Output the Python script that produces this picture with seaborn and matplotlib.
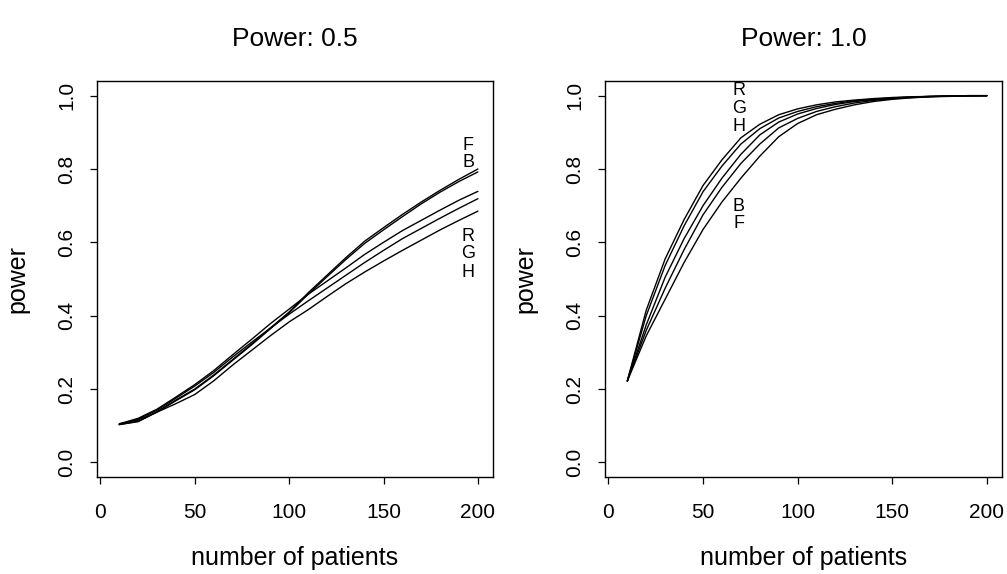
import matplotlib
matplotlib.use("Agg")
import matplotlib.pyplot as plt
import pandas as pd
import seaborn as sns

# number of patients (x) shared by every curve
patients = [10, 20, 30, 40, 50, 60, 70, 80, 90, 100,
            110, 120, 130, 140, 150, 160, 170, 180, 190, 200]

designs = ["F", "B", "R", "G", "H"]

# power curves, effect "Power: 0.5"
F_05 = [0.103, 0.112, 0.138, 0.170, 0.200, 0.238, 0.280, 0.322, 0.366, 0.410,
        0.462, 0.510, 0.558, 0.603, 0.640, 0.676, 0.710, 0.742, 0.772, 0.800]
B_05 = [0.103, 0.111, 0.137, 0.168, 0.198, 0.236, 0.278, 0.320, 0.364, 0.408,
        0.458, 0.506, 0.553, 0.597, 0.634, 0.670, 0.705, 0.737, 0.766, 0.792]
R_05 = [0.105, 0.120, 0.145, 0.178, 0.212, 0.250, 0.293, 0.335, 0.378, 0.418,
        0.458, 0.494, 0.530, 0.567, 0.600, 0.632, 0.660, 0.688, 0.715, 0.739]
G_05 = [0.103, 0.118, 0.142, 0.175, 0.208, 0.245, 0.287, 0.327, 0.366, 0.404,
        0.440, 0.475, 0.510, 0.545, 0.578, 0.610, 0.638, 0.666, 0.693, 0.719]
H_05 = [0.105, 0.115, 0.137, 0.160, 0.185, 0.222, 0.265, 0.305, 0.345, 0.383,
        0.416, 0.452, 0.487, 0.519, 0.549, 0.578, 0.606, 0.634, 0.660, 0.685]

# power curves, effect "Power: 1.0"
F_10 = [0.222, 0.345, 0.445, 0.545, 0.635, 0.710, 0.775, 0.835, 0.888, 0.924,
        0.948, 0.963, 0.975, 0.984, 0.990, 0.994, 0.997, 0.998, 0.999, 1.000]
B_10 = [0.222, 0.360, 0.475, 0.580, 0.675, 0.750, 0.815, 0.868, 0.912, 0.938,
        0.957, 0.970, 0.980, 0.987, 0.992, 0.995, 0.997, 0.999, 1.000, 1.000]
R_10 = [0.222, 0.415, 0.555, 0.662, 0.755, 0.825, 0.885, 0.922, 0.948, 0.964,
        0.975, 0.983, 0.988, 0.992, 0.995, 0.997, 0.998, 0.999, 1.000, 1.000]
G_10 = [0.222, 0.400, 0.537, 0.645, 0.738, 0.808, 0.868, 0.910, 0.939, 0.957,
        0.970, 0.979, 0.986, 0.990, 0.994, 0.996, 0.998, 0.999, 1.000, 1.000]
H_10 = [0.222, 0.375, 0.505, 0.610, 0.700, 0.775, 0.840, 0.893, 0.928, 0.950,
        0.965, 0.976, 0.984, 0.989, 0.993, 0.996, 0.998, 0.999, 1.000, 1.000]

# curve labels: (text, x, y) for each panel
labels_05 = [("F", 195, 0.864), ("B", 195, 0.817),
             ("R", 195, 0.615), ("G", 195, 0.570), ("H", 195, 0.518)]
labels_10 = [("R", 69, 1.015), ("G", 69, 0.964), ("H", 69, 0.917),
             ("B", 69, 0.698), ("F", 69, 0.651)]


def long_frame(series):
    rows = []
    for name, values in zip(designs, series):
        for n, p in zip(patients, values):
            rows.append({"patients": n, "power": p, "design": name})
    return pd.DataFrame(rows)


panels = [
    ("Power: 0.5", long_frame([F_05, B_05, R_05, G_05, H_05]), labels_05),
    ("Power: 1.0", long_frame([F_10, B_10, R_10, G_10, H_10]), labels_10),
]

sns.set_theme(style="ticks")
plt.rcParams["font.family"] = ["Liberation Sans", "DejaVu Sans"]

fig = plt.figure(figsize=(10.07, 5.74), dpi=100)
boxes = [[97 / 1007, 97 / 574, 396 / 1007, 396 / 574],
         [605 / 1007, 97 / 574, 397 / 1007, 396 / 574]]

for box, (title, df, labels) in zip(boxes, panels):
    ax = fig.add_axes(box)
    sns.lineplot(data=df, x="patients", y="power", units="design",
                 estimator=None, color="black", linewidth=1.0, ax=ax,
                 legend=False)
    ax.set_xlim(-1.8, 208)
    ax.set_ylim(-0.04, 1.04)
    ax.set_xticks([0, 50, 100, 150, 200])
    ax.set_yticks([0.0, 0.2, 0.4, 0.6, 0.8, 1.0])
    ax.set_yticklabels(["0.0", "0.2", "0.4", "0.6", "0.8", "1.0"])
    ax.tick_params(axis="both", length=5, width=0.9, color="black",
                   labelsize=15, labelcolor="black")
    ax.tick_params(axis="x", pad=14)
    ax.tick_params(axis="y", pad=10, labelrotation=90)
    for lab in ax.get_yticklabels():
        lab.set_va("center")
    for side in ["top", "right", "bottom", "left"]:
        ax.spines[side].set_visible(True)
        ax.spines[side].set_color("black")
        ax.spines[side].set_linewidth(1.0)
    ax.set_xlabel("number of patients", fontsize=18, color="black")
    ax.set_ylabel("power", fontsize=18, color="black")
    ax.xaxis.set_label_coords(0.5, -0.205)
    ax.xaxis.label.set_va("center")
    ax.yaxis.set_label_coords(-0.2, 0.5)
    ax.yaxis.label.set_va("center")
    ax.text(0.5, 1.106, title, transform=ax.transAxes, ha="center",
            va="center", fontsize=19, color="black")
    for txt, lx, ly in labels:
        ax.text(lx, ly, txt, ha="center", va="center", fontsize=13,
                color="black")

fig.savefig("out.png", dpi=100)
